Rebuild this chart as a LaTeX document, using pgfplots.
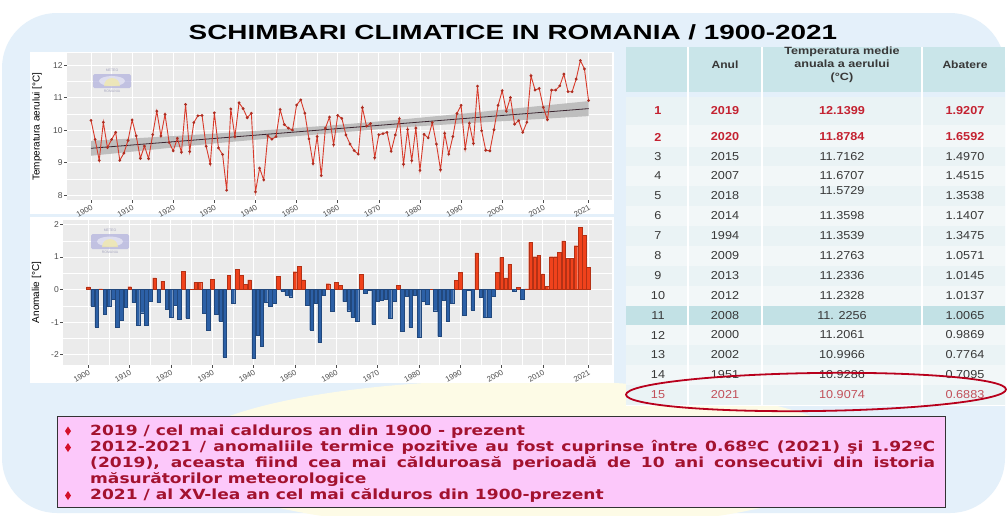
\documentclass[border=0pt]{standalone}
\usepackage{fontspec}
\setmainfont{Liberation Sans}
\newfontfamily\boxfont{DejaVu Sans}
\usepackage{pgfplots}
\usepackage{pgfplotstable}
\pgfplotsset{compat=1.18}

\definecolor{panelgray}{HTML}{EBEBEB}
\definecolor{tickgray}{HTML}{4D4D4D}
\definecolor{linered}{HTML}{D83A2A}
\definecolor{barred}{HTML}{F0421C}
\definecolor{barblue}{HTML}{2C60A6}
\definecolor{bandgray}{HTML}{BEBEBE}
\definecolor{trend}{HTML}{3A2530}
\definecolor{bgblue}{HTML}{E4F0FA}
\definecolor{paleyellow}{HTML}{FDFBE6}
\definecolor{hdrteal}{HTML}{C9E5E9}
\definecolor{rowA}{HTML}{EAF3F5}
\definecolor{rowB}{HTML}{F2F7F8}
\definecolor{rowteal}{HTML}{C2E1E5}
\definecolor{tabred}{HTML}{C42231}
\definecolor{tabred2}{HTML}{C2505A}
\definecolor{tabtext}{HTML}{383838}
\definecolor{boxpink}{HTML}{FCC8FA}
\definecolor{txtred}{HTML}{A3122F}
\definecolor{bulred}{HTML}{D4102A}
\definecolor{ellred}{HTML}{B8001C}
\definecolor{logoblue}{HTML}{B4B4DE}
\definecolor{logoyel}{HTML}{F2E9A8}

\pgfplotstableread{
year T A
1900 10.30 0.08
1901 9.71 -0.51
1902 9.07 -1.15
1903 10.24 0.02
1904 9.46 -0.76
1905 9.71 -0.51
1906 9.93 -0.29
1907 9.07 -1.15
1908 9.29 -0.93
1909 9.68 -0.54
1910 10.31 0.09
1911 9.82 -0.40
1912 9.13 -1.09
1913 9.51 -0.71
1914 9.12 -1.10
1915 9.86 -0.36
1916 10.58 0.36
1917 9.82 -0.40
1918 10.48 0.26
1919 9.62 -0.60
1920 9.36 -0.86
1921 9.75 -0.47
1922 9.32 -0.90
1923 10.79 0.57
1924 9.34 -0.88
1925 10.23 0.01
1926 10.44 0.22
1927 10.45 0.23
1928 9.50 -0.72
1929 8.96 -1.26
1930 10.53 0.31
1931 9.45 -0.77
1932 9.25 -0.97
1933 8.15 -2.07
1934 10.65 0.43
1935 9.80 -0.42
1936 10.84 0.62
1937 10.66 0.44
1938 10.38 0.16
1939 10.52 0.30
1940 8.10 -2.12
1941 8.83 -1.39
1942 8.47 -1.75
1943 9.82 -0.40
1944 9.72 -0.50
1945 9.80 -0.42
1946 10.63 0.41
1947 10.17 -0.05
1948 10.06 -0.16
1949 10.00 -0.22
1950 10.77 0.55
1951 10.93 0.71
1952 10.52 0.30
1953 9.73 -0.49
1954 8.97 -1.25
1955 9.80 -0.42
1956 8.60 -1.62
1957 10.06 -0.16
1958 10.40 0.18
1959 9.55 -0.67
1960 10.45 0.23
1961 10.36 0.14
1962 9.85 -0.37
1963 9.57 -0.65
1964 9.37 -0.85
1965 9.26 -0.96
1966 10.69 0.47
1967 10.12 -0.10
1968 10.20 -0.02
1969 9.15 -1.07
1970 9.86 -0.36
1971 9.89 -0.33
1972 9.93 -0.29
1973 9.35 -0.87
1974 9.85 -0.37
1975 10.35 0.13
1976 8.95 -1.27
1977 10.02 -0.20
1978 9.06 -1.16
1979 10.06 -0.16
1980 8.76 -1.46
1981 9.87 -0.35
1982 9.76 -0.46
1983 10.23 0.01
1984 9.57 -0.65
1985 8.78 -1.44
1986 9.90 -0.32
1987 9.26 -0.96
1988 9.80 -0.42
1989 10.51 0.29
1990 10.76 0.54
1991 9.42 -0.80
1992 10.21 -0.01
1993 9.59 -0.63
1994 11.35 1.13
1995 9.98 -0.24
1996 9.38 -0.84
1997 9.36 -0.86
1998 10.01 -0.21
1999 10.76 0.54
2000 11.21 0.99
2001 10.58 0.36
2002 11.00 0.78
2003 10.18 -0.04
2004 10.29 0.07
2005 9.93 -0.29
2006 10.24 0.02
2007 11.67 1.45
2008 11.23 1.01
2009 11.28 1.06
2010 10.70 0.48
2011 10.32 0.10
2012 11.23 1.01
2013 11.23 1.01
2014 11.36 1.14
2015 11.72 1.50
2016 11.18 0.96
2017 11.18 0.96
2018 11.57 1.35
2019 12.14 1.92
2020 11.88 1.66
2021 10.91 0.69
}\climdata

\pgfplotsset{
  ggstyle/.style={
    scale only axis,
    axis background/.style={fill=panelgray},
    axis x line*=bottom, axis y line*=left,
    axis line style={draw=none,-},
    grid=both,
    major grid style={white, line width=0.9pt},
    minor grid style={white, line width=0.45pt},
    tick align=outside,
    major tick length=2.5pt, minor tick length=0pt,
    tick style={tickgray, line width=0.5pt},
    xtick={1900,1910,1920,1930,1940,1950,1960,1970,1980,1990,2000,2010,2021},
    xticklabels={1900,1910,1920,1930,1940,1950,1960,1970,1980,1990,2000,2010,2021},
    minor xtick={1905,1915,1925,1935,1945,1955,1965,1975,1985,1995,2005,2015.5},
    xticklabel style={rotate=30, anchor=north east, font=\fontsize{7.8}{8}\selectfont, text=tickgray, inner sep=1pt},
    yticklabel style={font=\fontsize{8.5}{9}\selectfont, text=tickgray, inner sep=1.5pt},
    /pgf/number format/assume math mode=true,
    ylabel style={font=\fontsize{10}{11}\selectfont, anchor=center},
  }
}

\newcommand{\tc}[1]{\scalebox{1.1}[1]{#1}}

\begin{document}
\begin{tikzpicture}[x=1pt,y=1pt]
\useasboundingbox (0,0) rectangle (1007,-515);
% background
\fill[white] (0,0) rectangle (1007,-515);
\fill[bgblue, rounded corners=55pt] (2,-13) rectangle (1005,-513);
\fill[paleyellow] (520,-455) ellipse [x radius=340, y radius=75];
% chart panels
\fill[white] (30,-52) rectangle (614,-214);
\fill[white] (30,-217) rectangle (614,-383);

% title
\node[font=\bfseries\fontsize{20.5}{24}\selectfont, text=black] at (513,-32) {\scalebox{1.36}[1]{SCHIMBARI CLIMATICE IN ROMANIA / 1900-2021}};

% top chart
\begin{axis}[ggstyle,
  at={(66.7pt,-200pt)}, anchor=south west,
  width=545pt, height=147pt,
  xmin=1894.09, xmax=2026.63, ymin=7.85, ymax=12.37,
  ytick={8,9,10,11,12},
  minor ytick={8.5,9.5,10.5,11.5},
  ylabel={Temperatura aerului [°C]},
  ylabel style={at={(axis description cs:-0.0545,0.5)}},
]
\addplot[fill=bandgray, draw=none] coordinates {
  (1900,9.67) (1915,9.78) (1930,9.89) (1945,10.02) (1960,10.16) (1975,10.32) (1990,10.50) (2005,10.69) (2021,10.89)
  (2021,10.43) (2005,10.31) (1990,10.20) (1975,10.08) (1960,9.92) (1945,9.76) (1930,9.59) (1915,9.40) (1900,9.21)} -- cycle;
\addplot[trend, line width=0.8pt] coordinates {(1900,9.44) (2021,10.66)};
\addplot[linered, line width=0.9pt, mark=*, mark size=0.9pt, mark options={fill=linered!80!black, draw=linered!80!black}] table[x=year, y=T] {\climdata};
\end{axis}

% top logo
\begin{scope}[opacity=0.75]
\node[font=\fontsize{3.5}{4}\selectfont, text=logoblue!80!black] at (112,-70) {METEO};
\fill[logoblue, rounded corners=1.5pt] (93,-74) rectangle (131,-88);
\fill[white!70!logoblue] (112,-81) ellipse [x radius=13, y radius=5];
\fill[logoyel] (104,-86) arc[start angle=180, end angle=0, radius=8] -- cycle;
\node[font=\fontsize{3.5}{4}\selectfont, text=logoblue!80!black] at (112,-91) {ROMANIA};
\end{scope}

% bottom chart
\begin{axis}[ggstyle,
  at={(63pt,-365pt)}, anchor=south west,
  width=548.7pt, height=145pt,
  xmin=1893.88, xmax=2026.67, ymin=-2.32, ymax=2.14,
  ytick={-2,-1,0,1,2},
  minor ytick={-1.5,-0.5,0.5,1.5},
  ylabel={Anomalie [°C]},
  ylabel style={at={(axis description cs:-0.0483,0.5)}},
]
\addplot[ybar, bar width=0.86, bar shift=0pt, fill=barred, draw=barred!75!black, line width=0.25pt,
  y filter/.expression={y>0 ? y : nan}] table[x=year, y=A] {\climdata};
\addplot[ybar, bar width=0.86, bar shift=0pt, fill=barblue, draw=barblue!75!black, line width=0.25pt,
  y filter/.expression={y<0 ? y : nan}] table[x=year, y=A] {\climdata};
\end{axis}

% bottom logo
\begin{scope}[opacity=0.75]
\node[font=\fontsize{3.5}{4}\selectfont, text=logoblue!80!black] at (110,-230) {METEO};
\fill[logoblue, rounded corners=1.5pt] (91,-234) rectangle (129,-249);
\fill[white!70!logoblue] (110,-241.5) ellipse [x radius=13, y radius=5];
\fill[logoyel] (102,-247) arc[start angle=180, end angle=0, radius=8] -- cycle;
\node[font=\fontsize{3.5}{4}\selectfont, text=logoblue!80!black] at (110,-252) {ROMANIA};
\end{scope}

% table
\fill[hdrteal] (626,-47) rectangle (1005,-92);
\foreach \t/\b/\c in {97/125/rowA,125/147/rowB,147/166/rowA,166/186/rowB,186/206/rowA,206/226/rowB,226/246/rowA,246/266/rowB,266/286/rowA,286/306/rowB,306/325/rowteal,325/345/rowB,345/365/rowA,365/385/rowB,385/405/rowA}{
  \fill[\c] (626,-\t) rectangle (1005,-\b);
  \draw[white, line width=1pt] (626,-\b) -- (1005,-\b);
}
\foreach \x in {688,762,922}{
  \draw[white, line width=1.5pt] (\x,-47) -- (\x,-405);
}
\node[font=\bfseries\fontsize{10.5}{11}\selectfont, text=tabtext] at (725,-65) {\scalebox{1.15}[1]{Anul}};
\node[font=\bfseries\fontsize{10.5}{11}\selectfont, text=tabtext] at (965,-65) {\scalebox{1.15}[1]{Abatere}};
\node[font=\bfseries\fontsize{10.5}{12.8}\selectfont, text=tabtext, align=center] at (842,-65) {\scalebox{1.2}[1]{Temperatura medie}\\\scalebox{1.2}[1]{anuala a aerului}\\\scalebox{1.2}[1]{(°C)}};

\foreach \r/\y/\yt/\an/\t/\b in {3/156.5/156.5/2015/11.7162/1.4970,4/176/176/2007/11.6707/1.4515,5/196/191/2018/11.5729/1.3538,6/216/216/2014/11.3598/1.1407,7/236/236/1994/11.3539/1.3475,8/256/256/2009/11.2763/1.0571,9/276/276/2013/11.2336/1.0145,10/296/296/2012/11.2328/1.0137,11/315.5/315.5/2008/11. 2256/1.0065,12/335/335/2000/11.2061/0.9869,13/355/355/2002/10.9966/0.7764,14/375/375/1951/10.9286/0.7095}{
  \node[font=\fontsize{11.5}{12}\selectfont, text=tabtext] at (658,-\y) {\tc{\r}};
  \node[font=\fontsize{11.5}{12}\selectfont, text=tabtext] at (725,-\y) {\tc{\an}};
  \node[font=\fontsize{11.5}{12}\selectfont, text=tabtext] at (842,-\yt) {\tc{\t}};
  \node[font=\fontsize{11.5}{12}\selectfont, text=tabtext] at (965,-\y) {\tc{\b}};
}
\foreach \r/\y/\an/\t/\b in {1/111/2019/12.1399/1.9207,2/137/2020/11.8784/1.6592}{
  \node[font=\bfseries\fontsize{11.5}{12}\selectfont, text=tabred] at (658,-\y) {\tc{\r}};
  \node[font=\bfseries\fontsize{11.5}{12}\selectfont, text=tabred] at (725,-\y) {\tc{\an}};
  \node[font=\bfseries\fontsize{11.5}{12}\selectfont, text=tabred] at (842,-\y) {\tc{\t}};
  \node[font=\bfseries\fontsize{11.5}{12}\selectfont, text=tabred] at (965,-\y) {\tc{\b}};
}
\node[font=\fontsize{11.5}{12}\selectfont, text=tabred2] at (658,-395) {\tc{15}};
\node[font=\fontsize{11.5}{12}\selectfont, text=tabred2] at (725,-395) {\tc{2021}};
\node[font=\fontsize{11.5}{12}\selectfont, text=tabred2] at (842,-395) {\tc{10.9074}};
\node[font=\fontsize{11.5}{12}\selectfont, text=tabred2] at (965,-395) {\tc{0.6883}};
\draw[ellred, line width=1.8pt, rotate around={0.8:(816,-392)}] (816,-392) ellipse [x radius=190, y radius=19];

% text box
\fill[boxpink] (57,-416) rectangle (945,-507);
\draw[black!80, line width=0.8pt] (57,-416) rectangle (945,-507);
\foreach \yy in {431,447.5,495.5}{
  \fill[bulred] (68,-\yy+4.5) -- (71,-\yy) -- (68,-\yy-4.5) -- (65,-\yy) -- cycle;
}
\begin{scope}[every node/.style={anchor=base west, inner sep=0pt, text=txtred, font=\boxfont\bfseries\fontsize{14}{16}\selectfont}]
\node at (90,-435) {\scalebox{1.22}[1]{2019 / cel mai calduros an din 1900 - prezent}};
\node at (90,-451.5) {\scalebox{1.22}[1]{\makebox[692.6pt][s]{2012-2021 / anomaliile termice pozitive au fost cuprinse între 0.68ºC (2021) şi 1.92ºC}}};
\node at (90,-467.5) {\scalebox{1.22}[1]{\makebox[692.6pt][s]{(2019), aceasta fiind cea mai călduroasă perioadă de 10 ani consecutivi din istoria}}};
\node at (90,-483.5) {\scalebox{1.22}[1]{măsurătorilor meteorologice}};
\node at (90,-499.5) {\scalebox{1.22}[1]{2021 / al XV-lea an cel mai călduros din 1900-prezent}};
\end{scope}
\end{tikzpicture}
\end{document}
